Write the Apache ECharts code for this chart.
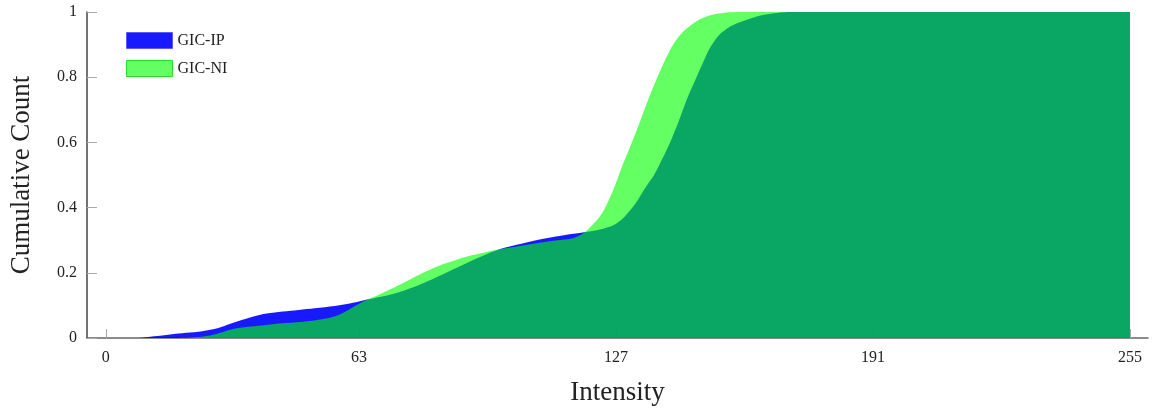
<!DOCTYPE html>
<html>
<head>
<meta charset="utf-8">
<script src="https://cdn.jsdelivr.net/npm/echarts@6/dist/echarts.min.js" type="text/javascript"></script>
<style>
    html, body { margin: 0; padding: 0; background: #fff; }
    #cdfChart { width: 1159px; height: 411px; }
</style>
</head>
<body>
<div id="cdfChart"></div>

<script type="text/javascript">
    // 读图得到的数据
    var intensityIP = [0, 8, 12, 16, 20, 24, 28, 31, 34, 37, 40, 44, 48, 52, 57, 60, 63, 65, 67, 70, 73, 76, 79, 83, 87.5, 92, 97, 102, 108, 112, 116, 120, 123, 126.5, 129, 132, 134, 136.5, 138.5, 140.5, 142.5, 144.7, 146.8, 148.8, 150.2, 151.5, 153, 155, 157.5, 160, 163, 167, 171, 255];
    var cumIP = [0, 0, 0.005, 0.011, 0.016, 0.021, 0.031, 0.044, 0.056, 0.067, 0.075, 0.081, 0.086, 0.091, 0.098, 0.104, 0.112, 0.118, 0.123, 0.13, 0.14, 0.153, 0.168, 0.19, 0.216, 0.242, 0.268, 0.285, 0.302, 0.311, 0.319, 0.326, 0.333, 0.347, 0.37, 0.415, 0.455, 0.5, 0.548, 0.6, 0.66, 0.733, 0.792, 0.848, 0.885, 0.91, 0.933, 0.952, 0.967, 0.978, 0.989, 0.997, 1, 1];

    var intensityNI = [0, 18, 22, 26, 29, 32, 36, 40, 44, 48.5, 53, 56, 58.5, 60.5, 62.5, 64.5, 67, 71, 75, 79, 83, 87.5, 92, 97, 102, 108, 112, 116.5, 119, 121, 122.5, 124, 125.5, 127, 128.5, 130.5, 132.3, 136.4, 140.5, 142.5, 144.7, 147.5, 150.5, 154, 158, 255];
    var cumNI = [0, 0, 0.002, 0.008, 0.018, 0.028, 0.035, 0.04, 0.045, 0.049, 0.056, 0.063, 0.074, 0.087, 0.101, 0.114, 0.127, 0.15, 0.175, 0.2, 0.222, 0.241, 0.256, 0.27, 0.28, 0.292, 0.299, 0.307, 0.322, 0.345, 0.365, 0.392, 0.43, 0.475, 0.525, 0.585, 0.641, 0.773, 0.884, 0.922, 0.95, 0.975, 0.99, 0.998, 1, 1];

    var xTicks = [0, 63, 127, 191, 255];

    function pairs(xs, ys) {
        var out = [];
        for (var i = 0; i < xs.length; i++) {
            out.push([xs[i], ys[i]]);
        }
        return out;
    }

    var blueFill = 'rgba(0,0,255,0.9)';
    var greenFill = 'rgba(0,255,0,0.61)';
    var serif = '"Liberation Serif", "DejaVu Serif", serif';

    var option = {
        animation: false,
        grid: {
            left: 86,
            right: 11,
            top: 12,
            bottom: 70
        },
        legend: {
            orient: 'vertical',
            left: 121,
            top: 27,
            icon: 'rect',
            itemWidth: 46,
            itemHeight: 16,
            itemGap: 11,
            textStyle: { fontFamily: serif, fontSize: 16, color: '#222' },
            data: [
                { name: 'GIC-IP', itemStyle: { color: blueFill, borderColor: 'rgba(90,90,255,1)', borderWidth: 1 } },
                { name: 'GIC-NI', itemStyle: { color: greenFill, borderColor: 'rgba(40,220,40,1)', borderWidth: 1 } }
            ]
        },
        xAxis: {
            type: 'value',
            min: -4.7,
            max: 259.5,
            name: 'Intensity',
            nameLocation: 'middle',
            nameGap: 41,
            nameTextStyle: { fontFamily: serif, fontSize: 27, color: '#222' },
            axisLine: { lineStyle: { color: '#666', width: 1.5 } },
            axisTick: { inside: true, length: 9, customValues: xTicks, lineStyle: { color: '#aaa' } },
            axisLabel: { customValues: xTicks, margin: 12, fontFamily: serif, fontSize: 16, color: '#222' },
            splitLine: { show: false }
        },
        yAxis: {
            type: 'value',
            min: 0,
            max: 1,
            interval: 0.2,
            name: 'Cumulative Count',
            nameLocation: 'middle',
            nameGap: 52,
            nameTextStyle: { fontFamily: serif, fontSize: 27, color: '#222' },
            axisLine: { show: true, onZero: false, lineStyle: { color: '#444', width: 1.5 } },
            axisTick: { show: true, inside: true, length: 10, lineStyle: { color: '#aaa' } },
            axisLabel: { margin: 10, fontFamily: serif, fontSize: 16, color: '#222' },
            splitLine: { show: false }
        },
        series: [
            {
                name: 'GIC-IP',
                type: 'line',
                smooth: 0.3,
                showSymbol: false,
                itemStyle: { color: blueFill },
                lineStyle: { width: 0 },
                areaStyle: { color: blueFill, opacity: 1 },
                data: pairs(intensityIP, cumIP)
            },
            {
                name: 'GIC-NI',
                type: 'line',
                smooth: 0.3,
                showSymbol: false,
                itemStyle: { color: greenFill },
                lineStyle: { width: 0 },
                areaStyle: { color: greenFill, opacity: 1 },
                data: pairs(intensityNI, cumNI)
            }
        ]
    };

    var cdfChart = echarts.init(document.getElementById('cdfChart'));
    cdfChart.setOption(option);
</script>
</body>
</html>
